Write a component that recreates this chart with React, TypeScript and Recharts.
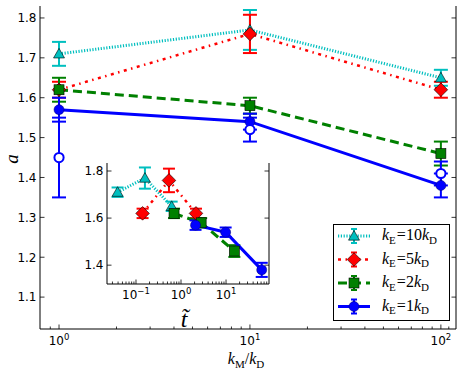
import React from 'react';
import { ComposedChart, Line, XAxis, YAxis, ErrorBar } from 'recharts';

// main panel: exponent a versus k_M / k_D
const kmRatio = [1, 10, 100];
const a10 = [1.71, 1.77, 1.65];
const e10 = [0.03, 0.05, 0.02];
const a5 = [1.62, 1.76, 1.62];
const e5 = [0.02, 0.048, 0.02];
const a2 = [1.62, 1.58, 1.46];
const e2 = [0.03, 0.02, 0.03];
const a1 = [1.57, 1.54, 1.38];
const e1 = [0.03, 0.02, 0.03];
const aOpen = [1.45, 1.52, 1.41];
const eOpen = [0.1, 0.03, 0.03];

// inset: same exponents versus rescaled time t~
const t10 = [0.039, 0.158, 0.62];
const t5 = [0.14, 0.54, 2.15];
const t2 = [0.7, 2.8, 15.3];
const t1 = [2.1, 9.8, 62];
const ie10 = [0.02, 0.045, 0.02];
const ie5 = [0.02, 0.05, 0.02];
const ie2 = [0.02, 0.02, 0.025];
const ie1 = [0.02, 0.02, 0.03];

const legendLabels = ['10', '5', '2', '1'];

const mainXMajor = [1, 10, 100];
const mainXMinor = [0.9, 2, 3, 4, 5, 6, 7, 8, 9, 20, 30, 40, 50, 60, 70, 80, 90, 110];
const mainYTicks = [1.1, 1.2, 1.3, 1.4, 1.5, 1.6, 1.7, 1.8];
const insetXMajor = [0.1, 1, 10];
const insetXMinor = [0.03, 0.04, 0.05, 0.06, 0.07, 0.08, 0.09, 0.2, 0.3, 0.4, 0.5, 0.6, 0.7, 0.8, 0.9, 2, 3, 4, 5, 6, 7, 8, 9, 20, 30, 40, 50, 60, 70, 80];
const insetYTicks = [1.4, 1.6, 1.8];

const mainData = kmRatio.map((k, i) => ({
  k,
  a10: a10[i], e10: e10[i],
  a5: a5[i], e5: e5[i],
  a2: a2[i], e2: e2[i],
  a1: a1[i], e1: e1[i],
  ao: aOpen[i], eo: eOpen[i],
}));

const insetSeries = (t: number[], a: number[], e: number[]) => t.map((x, i) => ({ t: x, a: a[i], e: e[i] }));

const CYAN = '#00BFBF';
const RED = '#FF0000';
const GREEN = '#008000';
const BLUE = '#0000FF';

type Shape = 'triangle' | 'diamond' | 'square' | 'circle' | 'open';

const styles: { color: string; dash?: string; shape: Shape; width: number }[] = [
  { color: CYAN, dash: '1.2 1.6', shape: 'triangle', width: 3 },
  { color: RED, dash: '3 4.5 1.5 4.5', shape: 'diamond', width: 2.5 },
  { color: GREEN, dash: '9 5', shape: 'square', width: 3 },
  { color: BLUE, dash: undefined, shape: 'circle', width: 3 },
];

function Marker({ shape, cx, cy, color }: { shape: Shape; cx: number; cy: number; color: string }) {
  if (shape === 'triangle') {
    const r = 5.5;
    return (
      <polygon
        points={`${cx},${cy - r} ${cx - r},${cy + r * 0.75} ${cx + r},${cy + r * 0.75}`}
        fill={color}
        stroke="#000"
        strokeWidth={0.6}
      />
    );
  }
  if (shape === 'diamond') {
    const r = 6.8;
    return (
      <polygon
        points={`${cx},${cy - r} ${cx + r},${cy} ${cx},${cy + r} ${cx - r},${cy}`}
        fill={color}
        stroke="#000"
        strokeWidth={0.6}
      />
    );
  }
  if (shape === 'square') {
    const s = 5;
    return <rect x={cx - s} y={cy - s} width={2 * s} height={2 * s} fill={color} stroke="#000" strokeWidth={0.6} />;
  }
  if (shape === 'open') {
    return <circle cx={cx} cy={cy} r={4.6} fill="#fff" stroke={color} strokeWidth={2} />;
  }
  return <circle cx={cx} cy={cy} r={5} fill={color} stroke="#00006a" strokeWidth={0.5} />;
}

const makeDot = (shape: Shape, color: string) => (props: any) => {
  const { cx, cy, index } = props;
  if (cx == null || cy == null) return <g key={`e-${index}`} />;
  return (
    <g key={`d-${index}`}>
      <Marker shape={shape} cx={cx} cy={cy} color={color} />
    </g>
  );
};

const isMajor = (major: number[], v: number) => major.some((m) => Math.abs(m - v) / m < 1e-6);

const logTick = (major: number[], side: 'bottom' | 'top', labelDy: number) => (props: any) => {
  const { x, y, payload } = props;
  const v = payload.value as number;
  const mj = isMajor(major, v);
  const len = mj ? 4.5 : 2.5;
  const dir = side === 'bottom' ? -1 : 1;
  const exp = Math.round(Math.log10(v));
  const expText = exp < 0 ? `\u2212${-exp}` : `${exp}`;
  return (
    <g>
      <line x1={x} y1={y} x2={x} y2={y + dir * len} stroke="#000" strokeWidth={0.8} />
      {side === 'bottom' && mj && (
        <text x={x} y={y + labelDy} textAnchor="middle" fontSize={12} fontFamily="DejaVu Sans" fill="#000">
          <tspan>10</tspan>
          <tspan dy={-5} fontSize={8.5}>{expText}</tspan>
        </text>
      )}
    </g>
  );
};

const linTick = (side: 'left' | 'right') => (props: any) => {
  const { x, y, payload } = props;
  const dir = side === 'left' ? 1 : -1;
  return (
    <g>
      <line x1={x} y1={y} x2={x + dir * 4.5} y2={y} stroke="#000" strokeWidth={0.8} />
      {side === 'left' && (
        <text x={x - 3.5} y={y} dy="0.36em" textAnchor="end" fontSize={12} fontFamily="DejaVu Sans" fill="#000">
          {Number(payload.value).toFixed(1)}
        </text>
      )}
    </g>
  );
};

const axisLine = { stroke: '#000', strokeWidth: 1 };

function MainChart() {
  const xTicks = [...mainXMajor, ...mainXMinor].sort((p, q) => p - q);
  const xDomain: [number, number] = [0.795, 120];
  const yDomain: [number, number] = [1.02, 1.83];
  const keys = ['10', '5', '2', '1'];
  return (
    <ComposedChart width={463} height={375} data={mainData} margin={{ top: 6, right: 0, bottom: 0, left: 0 }}>
      <XAxis
        dataKey="k"
        type="number"
        scale="log"
        domain={xDomain}
        allowDataOverflow
        ticks={xTicks}
        interval={0}
        tickLine={false}
        tickSize={0}
        tickMargin={0}
        height={46}
        axisLine={axisLine}
        tick={logTick(mainXMajor, 'bottom', 16)}
      />
      <XAxis
        xAxisId="top"
        orientation="top"
        type="number"
        scale="log"
        domain={xDomain}
        allowDataOverflow
        ticks={xTicks}
        interval={0}
        tickLine={false}
        tickSize={0}
        tickMargin={0}
        height={0}
        axisLine={axisLine}
        tick={logTick(mainXMajor, 'top', 0)}
      />
      <YAxis
        type="number"
        domain={yDomain}
        allowDataOverflow
        ticks={mainYTicks}
        interval={0}
        tickLine={false}
        tickSize={0}
        tickMargin={0}
        width={40}
        axisLine={axisLine}
        tick={linTick('left')}
      />
      <YAxis
        yAxisId="right"
        orientation="right"
        type="number"
        domain={yDomain}
        allowDataOverflow
        ticks={mainYTicks}
        interval={0}
        tickLine={false}
        tickSize={0}
        tickMargin={0}
        width={7}
        axisLine={axisLine}
        tick={linTick('right')}
      />
      {keys.map((key, i) => {
        const s = styles[i];
        return (
          <Line
            key={key}
            type="linear"
            dataKey={`a${key}`}
            stroke={s.color}
            strokeWidth={s.width}
            strokeDasharray={s.dash}
            dot={makeDot(s.shape, s.color)}
            activeDot={false}
            isAnimationActive={false}
          >
            <ErrorBar dataKey={`e${key}`} width={7} stroke={s.color} strokeWidth={2} direction="y" isAnimationActive={false} />
          </Line>
        );
      })}
      <Line
        type="linear"
        dataKey="ao"
        stroke="none"
        dot={makeDot('open', BLUE)}
        activeDot={false}
        isAnimationActive={false}
      >
        <ErrorBar dataKey="eo" width={7} stroke={BLUE} strokeWidth={2} direction="y" isAnimationActive={false} />
      </Line>
    </ComposedChart>
  );
}

function InsetChart() {
  const xTicks = [...insetXMajor, ...insetXMinor].sort((p, q) => p - q);
  const xDomain: [number, number] = [0.0227, 90];
  const yDomain: [number, number] = [1.32, 1.834];
  const series = [
    insetSeries(t10, a10, ie10),
    insetSeries(t5, a5, ie5),
    insetSeries(t2, a2, ie2),
    insetSeries(t1, a1, ie1),
  ];
  return (
    <ComposedChart width={200} height={175} margin={{ top: 6, right: 0, bottom: 0, left: 0 }}>
      <XAxis
        dataKey="t"
        type="number"
        scale="log"
        domain={xDomain}
        allowDataOverflow
        allowDuplicatedCategory={false}
        ticks={xTicks}
        interval={0}
        tickLine={false}
        tickSize={0}
        tickMargin={0}
        height={48}
        axisLine={axisLine}
        tick={logTick(insetXMajor, 'bottom', 15)}
      />
      <XAxis
        xAxisId="top"
        orientation="top"
        type="number"
        scale="log"
        domain={xDomain}
        allowDataOverflow
        ticks={xTicks}
        interval={0}
        tickLine={false}
        tickSize={0}
        tickMargin={0}
        height={0}
        axisLine={axisLine}
        tick={logTick(insetXMajor, 'top', 0)}
      />
      <YAxis
        type="number"
        domain={yDomain}
        allowDataOverflow
        ticks={insetYTicks}
        interval={0}
        tickLine={false}
        tickSize={0}
        tickMargin={0}
        width={30}
        axisLine={axisLine}
        tick={linTick('left')}
      />
      <YAxis
        yAxisId="right"
        orientation="right"
        type="number"
        domain={yDomain}
        allowDataOverflow
        ticks={insetYTicks}
        interval={0}
        tickLine={false}
        tickSize={0}
        tickMargin={0}
        width={8}
        axisLine={axisLine}
        tick={linTick('right')}
      />
      {series.map((data, i) => {
        const s = styles[i];
        return (
          <Line
            key={`inset-${i}`}
            data={data}
            type="linear"
            dataKey="a"
            stroke={s.color}
            strokeWidth={s.width}
            strokeDasharray={s.dash}
            dot={makeDot(s.shape, s.color)}
            activeDot={false}
            isAnimationActive={false}
          >
            <ErrorBar dataKey="e" width={6} stroke={s.color} strokeWidth={2} direction="y" isAnimationActive={false} />
          </Line>
        );
      })}
    </ComposedChart>
  );
}

const serif = 'Liberation Serif';

function Overlay() {
  const rows = [236, 259.5, 283, 306.5];
  return (
    <svg width={463} height={375} style={{ position: 'absolute', left: 0, top: 0, pointerEvents: 'none' }}>
      {/* axis labels */}
      <text transform="translate(18,159) rotate(-90)" textAnchor="middle" fontFamily={serif} fontStyle="italic" fontSize={19}>
        a
      </text>
      <text x={246} y={364} textAnchor="middle" fontFamily={serif} fontSize={16}>
        <tspan fontStyle="italic">k</tspan>
        <tspan fontSize={11} dy={3.5}>M</tspan>
        <tspan dy={-3.5}>/</tspan>
        <tspan fontStyle="italic">k</tspan>
        <tspan fontSize={11} dy={3.5}>D</tspan>
      </text>
      <text x={184} y={327} textAnchor="middle" fontFamily={serif} fontStyle="italic" fontSize={24}>
        t&#x303;
      </text>

      {/* legend */}
      <rect x={333.5} y={224.5} width={116} height={96} fill="#fff" stroke="#000" strokeWidth={1} />
      {legendLabels.map((lab, i) => {
        const s = styles[i];
        const y = rows[i];
        return (
          <g key={lab}>
            <line x1={338} y1={y} x2={370} y2={y} stroke={s.color} strokeWidth={s.width} strokeDasharray={s.dash} />
            <line x1={354} y1={y - 7} x2={354} y2={y + 7} stroke={s.color} strokeWidth={2} />
            <line x1={351} y1={y - 7} x2={357} y2={y - 7} stroke={s.color} strokeWidth={2} />
            <line x1={351} y1={y + 7} x2={357} y2={y + 7} stroke={s.color} strokeWidth={2} />
            <Marker shape={s.shape} cx={354} cy={y} color={s.color} />
            <text x={382} y={y + 4} fontFamily={serif} fontSize={16}>
              <tspan fontStyle="italic">k</tspan>
              <tspan fontSize={11} dy={3.5}>E</tspan>
              <tspan dy={-3.5} dx={1}>=</tspan>
              <tspan>{lab}</tspan>
              <tspan fontStyle="italic">k</tspan>
              <tspan fontSize={11} dy={3.5}>D</tspan>
            </text>
          </g>
        );
      })}
    </svg>
  );
}

export default function App() {
  return (
    <div style={{ position: 'absolute', left: 0, top: 0, width: 463, height: 375, background: '#fff' }}>
      <div style={{ position: 'absolute', left: 0, top: 0 }}>
        <MainChart />
      </div>
      <div style={{ position: 'absolute', left: 107, top: 163, width: 162, height: 121, background: '#fff' }} />
      <div style={{ position: 'absolute', left: 77, top: 157 }}>
        <InsetChart />
      </div>
      <Overlay />
    </div>
  );
}
